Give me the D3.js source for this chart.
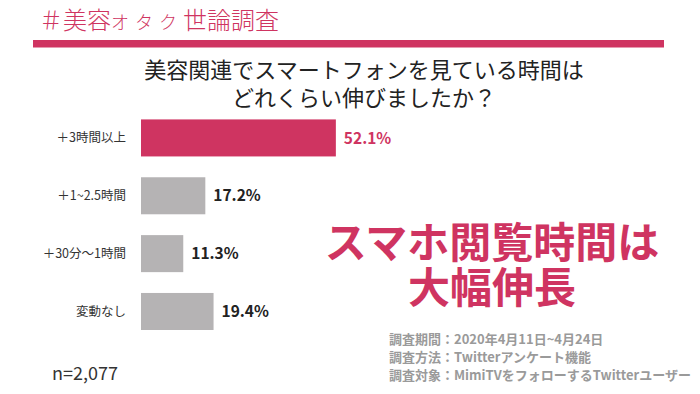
<!DOCTYPE html>
<html>
<head>
<meta charset="utf-8">
<script src="https://cdn.jsdelivr.net/npm/d3@7"></script>
<style>
  body { margin: 0; background: #fff; }
  svg text { font-family: "Noto Sans CJK JP", "Noto Sans", sans-serif; }
</style>
</head>
<body>
<div id="chart"></div>
<script>
const categories = ["＋3時間以上", "＋1~2.5時間", "＋30分〜1時間", "変動なし"];
const values = [52.1, 17.2, 11.3, 19.4];
const highlight = ["＋3時間以上"];
const questionLines = ["美容関連でスマートフォンを見ている時間は", "どれくらい伸びましたか？"];
const headlineLines = ["スマホ閲覧時間は", "大幅伸長"];
const notes = [
  "調査期間：2020年4月11日~4月24日",
  "調査方法：Twitterアンケート機能",
  "調査対象：MimiTVをフォローするTwitterユーザー"
];
const sampleSize = "n=2,077";

const width = 700, height = 394;
const pink = "#cf3461";
const grey = "#b5b3b4";

const svg = d3.select("#chart").append("svg")
  .attr("width", width)
  .attr("height", height);

// ヘッダー
const title = svg.append("text")
  .attr("x", 39)
  .attr("y", 29)
  .attr("fill", pink)
  .attr("font-size", 24)
  .attr("font-weight", 300);
title.append("tspan").text("＃美容");
title.append("tspan").attr("font-size", 18).attr("letter-spacing", 6).text("オタク");
title.append("tspan").text("世論調査");

svg.append("rect")
  .attr("x", 33).attr("y", 40)
  .attr("width", 631).attr("height", 7.5)
  .attr("fill", pink);

// 設問
svg.append("g")
  .selectAll("text")
  .data(questionLines)
  .join("text")
  .attr("x", 364)
  .attr("y", (d, i) => 78 + i * 28)
  .attr("text-anchor", "middle")
  .attr("font-size", 22)
  .attr("fill", "#222")
  .text(d => d);

const x = d3.scaleLinear().domain([0, 100]).range([141, 141 + 374]);
const y = d3.scaleBand()
  .domain(categories)
  .range([109, 340.4])
  .paddingInner(0.36)
  .paddingOuter(0.18);

const rows = svg.append("g")
  .selectAll("g")
  .data(categories.map((c, i) => ({ cat: c, val: values[i] })))
  .join("g");

rows.append("rect")
  .attr("x", x(0))
  .attr("y", d => y(d.cat))
  .attr("width", d => x(d.val) - x(0))
  .attr("height", y.bandwidth())
  .attr("fill", d => highlight.includes(d.cat) ? pink : grey);

rows.append("text")
  .attr("x", 126)
  .attr("y", d => y(d.cat) + y.bandwidth() / 2)
  .attr("dy", "0.35em")
  .attr("text-anchor", "end")
  .attr("font-size", 12.5)
  .attr("fill", "#333")
  .text(d => d.cat);

rows.append("text")
  .attr("x", d => x(d.val) + 8)
  .attr("y", d => y(d.cat) + y.bandwidth() / 2)
  .attr("dy", "0.36em")
  .attr("font-size", 15.5)
  .attr("font-weight", "bold")
  .attr("fill", d => highlight.includes(d.cat) ? pink : "#222")
  .text(d => d.val.toFixed(1) + "%");

svg.append("text")
  .attr("x", 52)
  .attr("y", 380)
  .attr("font-size", 18)
  .attr("fill", "#333")
  .text(sampleSize);

// 見出し
svg.append("g")
  .selectAll("text")
  .data(headlineLines)
  .join("text")
  .attr("x", 492)
  .attr("y", (d, i) => 258 + i * 45)
  .attr("text-anchor", "middle")
  .attr("font-size", 42)
  .attr("font-weight", "bold")
  .attr("fill", pink)
  .text(d => d);

// 注記
svg.append("g")
  .selectAll("text")
  .data(notes)
  .join("text")
  .attr("x", 389)
  .attr("y", (d, i) => 344 + i * 18)
  .attr("font-size", 13)
  .attr("font-weight", "bold")
  .attr("fill", "#9a9a9a")
  .text(d => d);
</script>
</body>
</html>
